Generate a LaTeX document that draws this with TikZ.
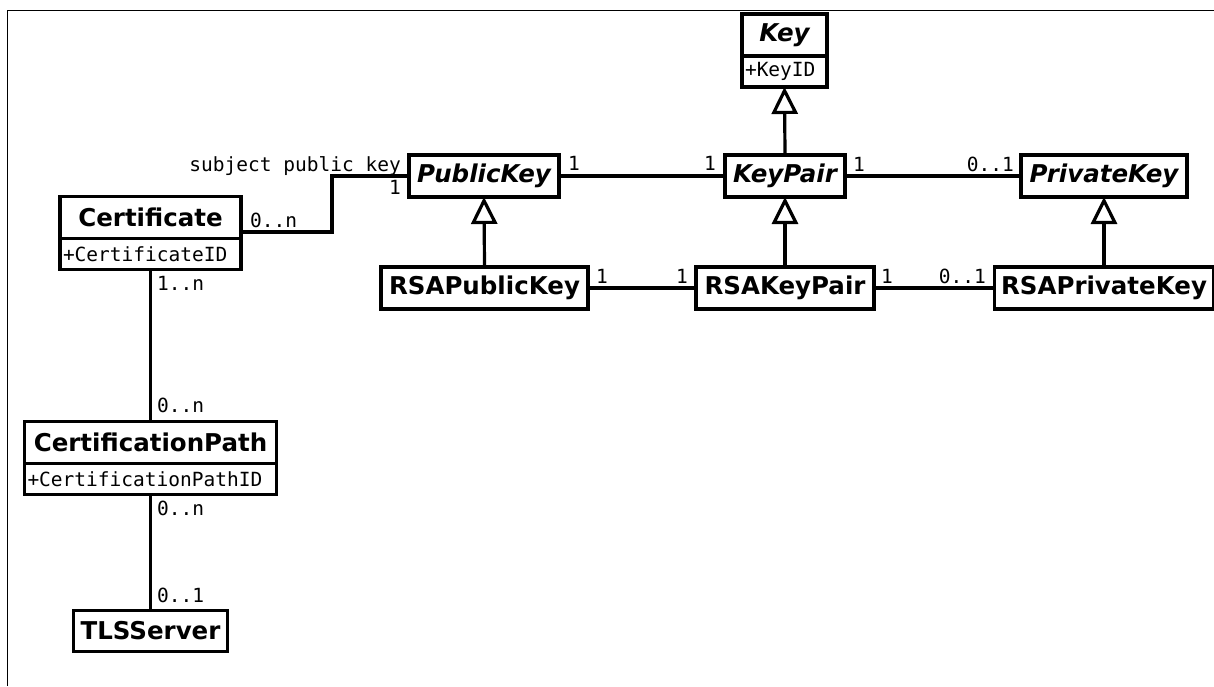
\documentclass[tikz,border=0pt]{standalone}
\usepackage{fontspec}
\setmainfont{DejaVu Sans}
\newfontfamily\umlmono{DejaVu Sans Mono}
\usetikzlibrary{arrows.meta,positioning}

\tikzset{
  classbox/.style={draw, line width=3.2pt, outer sep=0pt, inner sep=0pt, minimum height=42pt, font=\fontsize{24.5}{28}\selectfont\bfseries},
  abstractbox/.style={classbox, font=\fontsize{24.5}{28}\selectfont\bfseries\itshape},
  attrbox/.style={draw, line width=3.2pt, outer sep=0pt, inner xsep=3pt, inner ysep=0pt, minimum height=31pt, align=left, font=\fontsize{19.5}{22}\selectfont\umlmono},
  mult/.style={inner sep=0pt, font=\fontsize{19.5}{22}\selectfont\umlmono},
  assoc/.style={line width=3.2pt},
  inherit/.style={line width=3.2pt, -{Triangle[open, length=27pt, width=26pt]}},
}

\begin{document}
\begin{tikzpicture}[x=1pt, y=-1pt]
\useasboundingbox (0,0) rectangle (1214,686);
\draw[line width=1pt] (7,686) -- (7,10) -- (1214,10);

% key classes
\node[abstractbox, minimum width=85pt] (key) at (784.5,35) {Key};
\node[attrbox, text width=79pt, below=0pt of key] (keyattr) {+KeyID};
\node[abstractbox, minimum width=150pt] (pk) at (484,176) {PublicKey};
\node[abstractbox, minimum width=120pt] (kp) at (785,176) {KeyPair};
\node[abstractbox, minimum width=166pt] (prk) at (1104,176) {PrivateKey};
\node[classbox, minimum width=207pt] (rpk) at (484.5,288) {RSAPublicKey};
\node[classbox, minimum width=178pt] (rkp) at (785,288) {RSAKeyPair};
\node[classbox, minimum width=219pt] (rprk) at (1104,288) {RSAPrivateKey};

% certificate classes
\node[classbox, minimum width=181pt] (cert) at (150.5,217.5) {Certificate};
\node[attrbox, text width=175pt, below=0pt of cert] (certattr) {+CertificateID};
\node[classbox, minimum width=252pt] (cpath) at (150.5,442.5) {CertificationPath};
\node[attrbox, text width=246pt, below=0pt of cpath] (cpathattr) {+CertificationPathID};
\node[classbox, minimum width=154pt, minimum height=41pt] (tls) at (150.5,631) {TLSServer};

\draw[inherit] (kp.north) -- (keyattr.south);
\draw[inherit] (rpk.north) -- (pk.south);
\draw[inherit] (rkp.north) -- (kp.south);
\draw[inherit] (rprk.north) -- (prk.south);

\draw[assoc] (pk.east) -- (kp.west);
\draw[assoc] (kp.east) -- (prk.west);
\draw[assoc] (rpk.east) -- (rkp.west);
\draw[assoc] (rkp.east) -- (rprk.west);
\draw[assoc] ([yshift=-14.5pt]cert.east) -- ++(91,0) |- (pk.west);
\draw[assoc] (certattr.south) -- (cpath.north);
\draw[assoc] (cpathattr.south) -- (tls.north);

% multiplicities
\node[mult, anchor=base east] (subj) at (401,171) {subject public key};
\node[mult, anchor=base east] (subjm) at (401,194) {1};
\node[mult, anchor=base west] (certm) at (250,227) {0..n};
\node[mult, anchor=base west] (pkm) at (568,170) {1};
\node[mult, anchor=base east] (kpm1) at (716,170) {1};
\node[mult, anchor=base west] (kpm2) at (853,171) {1};
\node[mult, anchor=base east] (prkm) at (1014,171) {0..1};
\node[mult, anchor=base west] (rpkm) at (596,283) {1};
\node[mult, anchor=base east] (rkpm1) at (688,283) {1};
\node[mult, anchor=base west] (rkpm2) at (881,283) {1};
\node[mult, anchor=base east] (rprkm) at (986,283) {0..1};
\node[mult, anchor=base west] (certpm) at (157,290) {1..n};
\node[mult, anchor=base west] (cpathm1) at (157,412) {0..n};
\node[mult, anchor=base west] (cpathm2) at (157,515) {0..n};
\node[mult, anchor=base west] (tlsm) at (157,602) {0..1};
\end{tikzpicture}
\end{document}
